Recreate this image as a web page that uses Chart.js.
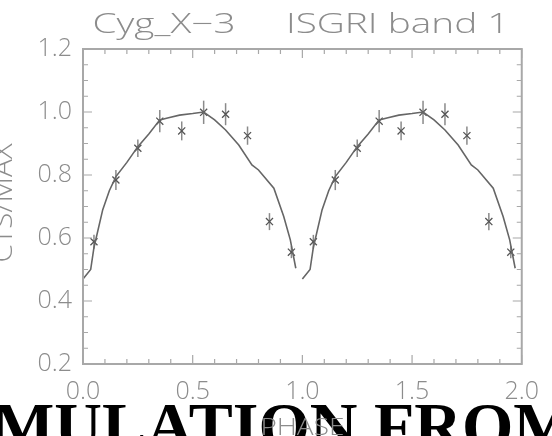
<!DOCTYPE html>
<html>
<head>
<meta charset="utf-8">
<script src="https://cdn.jsdelivr.net/npm/chart.js@4"></script>
<style>
  html, body { margin: 0; padding: 0; background: #fff; }
  #wrap { position: relative; width: 552px; height: 436px; overflow: hidden; }
</style>
</head>
<body>
<div id="wrap"><canvas id="lc"></canvas></div>
<script>
// folded light curve, two cycles
const phases = [0.05, 0.15, 0.25, 0.35, 0.45, 0.55, 0.65, 0.75, 0.85, 0.95,
                1.05, 1.15, 1.25, 1.35, 1.45, 1.55, 1.65, 1.75, 1.85, 1.95];
const rates = [0.588, 0.784, 0.885, 0.971, 0.940, 0.999, 0.993, 0.925, 0.652, 0.555,
               0.588, 0.784, 0.885, 0.971, 0.940, 0.999, 0.993, 0.925, 0.652, 0.555];
const errs = [0.022, 0.032, 0.028, 0.035, 0.030, 0.037, 0.035, 0.029, 0.027, 0.019,
              0.022, 0.032, 0.028, 0.035, 0.030, 0.037, 0.035, 0.029, 0.027, 0.019];

// model curve
const modelPhaseA = [0.00, 0.035, 0.05, 0.09, 0.12, 0.15, 0.20, 0.25, 0.30, 0.35, 0.39, 0.44,
                     0.50, 0.55, 0.60, 0.65, 0.71, 0.77, 0.80, 0.87, 0.915, 0.945, 0.97];
const modelPhaseB = [1.00, 1.035, 1.05, 1.09, 1.12, 1.15, 1.20, 1.25, 1.30, 1.35, 1.39, 1.44,
                     1.50, 1.55, 1.60, 1.65, 1.71, 1.77, 1.80, 1.87, 1.915, 1.945, 1.97];
const modelRate = [0.47, 0.50, 0.57, 0.69, 0.75, 0.795, 0.84, 0.89, 0.93, 0.975, 0.982, 0.99,
                   0.995, 1.0, 0.975, 0.943, 0.895, 0.832, 0.816, 0.758, 0.668, 0.594, 0.504];

const xTicks = [0.0, 0.5, 1.0, 1.5, 2.0];
const yTicks = [0.2, 0.4, 0.6, 0.8, 1.0, 1.2];

const txtFont = "'Open Sans', Roboto, sans-serif";
const txtCol = "#8c8c8c";
const axisCol = "#a8a8a8";

const pts = (xs, ys) => xs.map((x, i) => ({x: x, y: ys[i]}));

// draw text stretched sideways to a given width (IDL font is wide)
function wideText(ctx, str, cx, y, w) {
  const m = ctx.measureText(str).width;
  ctx.save();
  ctx.translate(cx, y);
  ctx.scale(w / m, 1);
  ctx.fillText(str, 0, 0);
  ctx.restore();
}

const idlFrame = {
  id: "idlFrame",
  beforeDraw(chart) {
    const ctx = chart.ctx;
    ctx.save();
    ctx.fillStyle = "#000";
    ctx.font = "bold 66px 'Liberation Serif'";
    ctx.textBaseline = "alphabetic";
    ctx.textAlign = "left";
    ctx.fillText("MULATION FROM", -8, 448);
    ctx.restore();
  },
  beforeDatasetsDraw(chart) {
    const ctx = chart.ctx, xs = chart.scales.x, ys = chart.scales.y;
    ctx.save();
    ctx.strokeStyle = "#8a8a8a";
    ctx.lineWidth = 1.5;
    phases.forEach((p, i) => {
      const px = xs.getPixelForValue(p);
      ctx.beginPath();
      ctx.moveTo(px, ys.getPixelForValue(rates[i] - errs[i]));
      ctx.lineTo(px, ys.getPixelForValue(rates[i] + errs[i]));
      ctx.stroke();
    });
    ctx.restore();
  },
  afterDraw(chart) {
    const ctx = chart.ctx, a = chart.chartArea, xs = chart.scales.x, ys = chart.scales.y;
    ctx.save();
    ctx.strokeStyle = axisCol;
    ctx.lineWidth = 2;
    ctx.strokeRect(a.left, a.top, a.right - a.left, a.bottom - a.top);
    ctx.lineWidth = 1.2;
    ctx.beginPath();
    for (let k = 0; k <= 20; k++) {
      const v = k / 10, px = xs.getPixelForValue(v);
      const len = (k % 5 === 0) ? 9 : 5;
      ctx.moveTo(px, a.bottom); ctx.lineTo(px, a.bottom - len);
      ctx.moveTo(px, a.top); ctx.lineTo(px, a.top + len);
    }
    for (let k = 4; k <= 24; k++) {
      const v = k / 20, py = ys.getPixelForValue(v);
      const len = (k % 4 === 0) ? 9 : 5;
      ctx.moveTo(a.left, py); ctx.lineTo(a.left + len, py);
      ctx.moveTo(a.right, py); ctx.lineTo(a.right - len, py);
    }
    ctx.stroke();

    ctx.fillStyle = txtCol;
    ctx.textAlign = "center";
    ctx.textBaseline = "alphabetic";
    ctx.font = "300 27px " + txtFont;
    wideText(ctx, "Cyg_X\u22123     ISGRI band 1", 301, 33, 417);

    ctx.font = "300 24px " + txtFont;
    wideText(ctx, "PHASE", (a.left + a.right) / 2, 435, 84);

    ctx.translate(12, 203);
    ctx.rotate(-Math.PI / 2);
    ctx.font = "300 27px " + txtFont;
    wideText(ctx, "CTS/MAX", 0, 0, 119);
    ctx.restore();
  }
};

new Chart("lc", {
  type: "scatter",
  data: {
    datasets: [
      {
        label: "model",
        data: pts(modelPhaseA, modelRate),
        showLine: true,
        borderColor: "#666",
        borderWidth: 1.6,
        pointRadius: 0,
        tension: 0,
      },
      {
        label: "model2",
        data: pts(modelPhaseB, modelRate),
        showLine: true,
        borderColor: "#666",
        borderWidth: 1.6,
        pointRadius: 0,
        tension: 0,
      },
      {
        label: "data",
        data: pts(phases, rates),
        showLine: false,
        pointStyle: "crossRot",
        pointRadius: 5,
        borderColor: "#555",
        borderWidth: 1.3,
      },
    ],
  },
  options: {
    responsive: true,
    maintainAspectRatio: false,
    animation: false,
    layout: { padding: { top: 49, right: 24, left: 0, bottom: 0 } },
    plugins: {
      legend: { display: false },
      tooltip: { enabled: false },
    },
    scales: {
      x: {
        type: "linear",
        min: 0,
        max: 2,
        afterFit(s) { s.height = 72; },
        afterBuildTicks(s) { s.ticks = xTicks.map(v => ({value: v})); },
        grid: { display: false, drawTicks: false },
        border: { display: false },
        ticks: {
          padding: 13,
          color: txtCol,
          font: { family: txtFont, size: 25, weight: 300 },
          callback: v => v.toFixed(1),
        },
      },
      y: {
        type: "linear",
        min: 0.2,
        max: 1.2,
        afterFit(s) { s.width = 83; },
        afterBuildTicks(s) { s.ticks = yTicks.map(v => ({value: v})); },
        grid: { display: false, drawTicks: false },
        border: { display: false },
        ticks: {
          padding: 11,
          color: txtCol,
          font: { family: txtFont, size: 25, weight: 300 },
          callback: v => v.toFixed(1),
        },
      },
    },
  },
  plugins: [idlFrame],
});
</script>
</body>
</html>
